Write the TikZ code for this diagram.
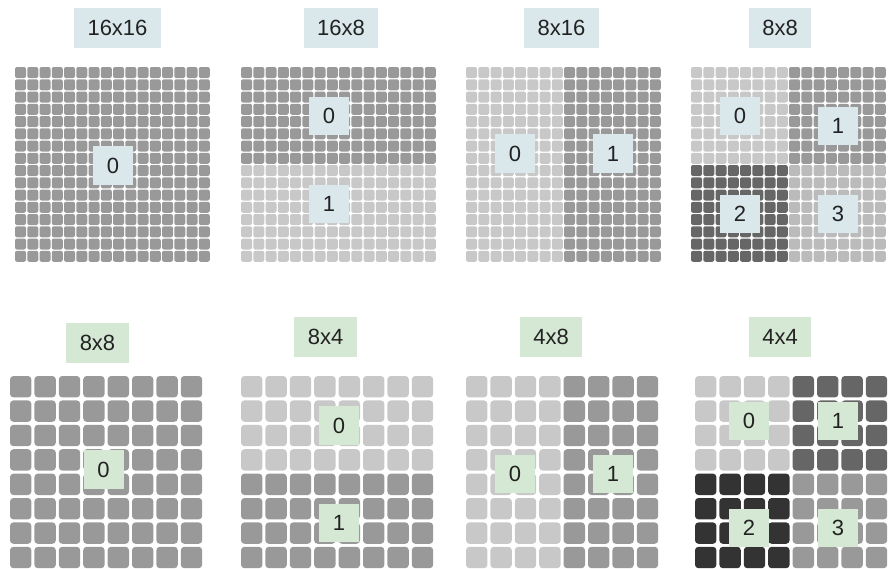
\documentclass[tikz,border=0pt]{standalone}
\usepackage{fontspec}
\setmainfont{Liberation Sans}
\definecolor{gA}{HTML}{C8C8C8}
\definecolor{gB}{HTML}{999999}
\definecolor{gC}{HTML}{666666}
\definecolor{gD}{HTML}{333333}
\definecolor{gE}{HTML}{BBBBBB}
\definecolor{bluebox}{HTML}{DAE8EC}
\definecolor{greenbox}{HTML}{D5E8D4}
\definecolor{txt}{HTML}{222222}
\newcommand\cellblock[8]{% x0,y0,ncols,nrows,pitch,size,color,radius
  \foreach \i in {1,...,#3}{\foreach \j in {1,...,#4}{
    \fill[#7, rounded corners=#8] ({#1+(\i-1)*#5},{#2+(\j-1)*#5}) rectangle ++(#6,#6);}}}
\tikzset{
  titlebox/.style={inner xsep=10pt, inner ysep=0pt, minimum height=30pt, font=\fontsize{16.5}{18}\selectfont, text=txt},
  numbox/.style={minimum width=30pt, minimum height=29pt, inner sep=0pt, font=\fontsize{16.5}{18}\selectfont, text=txt},
  tb/.style={titlebox, fill=bluebox},
  tg/.style={titlebox, fill=greenbox},
  nb/.style={numbox, fill=bluebox},
  ng/.style={numbox, fill=greenbox},
}
\begin{document}
\begin{tikzpicture}[x=0.75pt, y=-0.75pt]
\path[use as bounding box] (0,0) rectangle (892,568);
% ---- top row grids (16 per side)
\def\tp{12.25}\def\ts{11}
\cellblock{15}{67}{16}{16}{\tp}{\ts}{gB}{1.5pt}
\cellblock{241}{67}{16}{8}{\tp}{\ts}{gB}{1.5pt}
\cellblock{241}{165}{16}{8}{\tp}{\ts}{gA}{1.5pt}
\cellblock{466}{67}{8}{16}{\tp}{\ts}{gA}{1.5pt}
\cellblock{564}{67}{8}{16}{\tp}{\ts}{gB}{1.5pt}
\cellblock{691}{67}{8}{8}{\tp}{\ts}{gA}{1.5pt}
\cellblock{789}{67}{8}{8}{\tp}{\ts}{gB}{1.5pt}
\cellblock{691}{165}{8}{8}{\tp}{\ts}{gC}{1.5pt}
\cellblock{789}{165}{8}{8}{\tp}{\ts}{gE}{1.5pt}
% ---- bottom row grids (8 per side)
\def\bp{24.4}\def\bs{21.4}
\cellblock{10}{376}{8}{8}{\bp}{\bs}{gB}{2.6pt}
\cellblock{241}{376}{8}{4}{\bp}{\bs}{gA}{2.6pt}
\cellblock{241}{473.6}{8}{4}{\bp}{\bs}{gB}{2.6pt}
\cellblock{466}{376}{4}{8}{\bp}{\bs}{gA}{2.6pt}
\cellblock{563.6}{376}{4}{8}{\bp}{\bs}{gB}{2.6pt}
\cellblock{695}{376}{4}{4}{\bp}{\bs}{gA}{2.6pt}
\cellblock{792.6}{376}{4}{4}{\bp}{\bs}{gC}{2.6pt}
\cellblock{695}{473.6}{4}{4}{\bp}{\bs}{gD}{2.6pt}
\cellblock{792.6}{473.6}{4}{4}{\bp}{\bs}{gB}{2.6pt}
% ---- titles
\node[tb] (t1) at (117.5,28) {16x16};
\node[tb] (t2) at (341,28) {16x8};
\node[tb] (t3) at (561.5,28) {8x16};
\node[tb] (t4) at (780,28) {8x8};
\node[tg] (b1) at (97.5,343) {8x8};
\node[tg] (b2) at (325.5,337) {8x4};
\node[tg] (b3) at (551,337) {4x8};
\node[tg] (b4) at (780,337) {4x4};
% ---- numbers top
\node[nb] (t1n0) at (113,165.5) {0};
\node[nb] (t2n0) at (329,116) {0};
\node[nb] (t2n1) at (329,204) {1};
\node[nb] (t3n0) at (515,153.5) {0};
\node[nb] (t3n1) at (613,153.5) {1};
\node[nb] (t4n0) at (740,116) {0};
\node[nb] (t4n1) at (838,126) {1};
\node[nb] (t4n2) at (740,214) {2};
\node[nb] (t4n3) at (838,214) {3};
% ---- numbers bottom
\node[ng] (b1n0) at (103.5,469.5) {0};
\node[ng] (b2n0) at (339,425.5) {0};
\node[ng] (b2n1) at (339,523) {1};
\node[ng] (b3n0) at (515,474) {0};
\node[ng] (b3n1) at (613,474) {1};
\node[ng] (b4n0) at (749,421) {0};
\node[ng] (b4n1) at (838,421) {1};
\node[ng] (b4n2) at (749,528) {2};
\node[ng] (b4n3) at (838,528) {3};
\end{tikzpicture}
\end{document}
